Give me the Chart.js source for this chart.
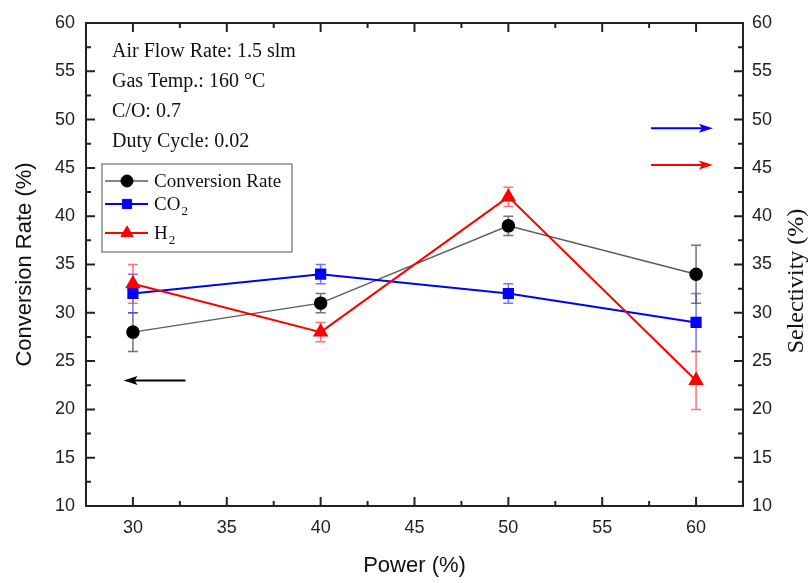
<!DOCTYPE html>
<html>
<head>
<meta charset="utf-8">
<style>
  html, body { margin: 0; padding: 0; background: #fff; }
  #wrap { width: 811px; height: 583px; }
</style>
<script src="https://cdn.jsdelivr.net/npm/chart.js@4.4.1/dist/chart.umd.min.js"></script>
</head>
<body>
<div id="wrap"><canvas id="c" width="811" height="583"></canvas></div>
<script>
// Plasma reforming run: conversion and product selectivity vs. discharge power
const power = [30, 40, 50, 60];
const conversionRate = [28, 31, 39, 34];
const conversionErr = [2, 1, 1, 3];
const co2Selectivity = [32, 34, 32, 29];
const co2Err = [2, 1, 1, 3];
const h2Selectivity = [33, 28, 42, 23];
const h2Err = [2, 1, 1, 3];

const xTicks = [30, 35, 40, 45, 50, 55, 60];
const xMinorTicks = [32.5, 37.5, 42.5, 47.5, 52.5, 57.5];
const yTicks = [10, 15, 20, 25, 30, 35, 40, 45, 50, 55, 60];
const yMinorTicks = [12.5, 17.5, 22.5, 27.5, 32.5, 37.5, 42.5, 47.5, 52.5, 57.5];

const conditions = ['Air Flow Rate: 1.5 slm', 'Gas Temp.: 160 \u00B0C', 'C/O: 0.7', 'Duty Cycle: 0.02'];

// Arrows telling which axis each series belongs to: [x start, x end, y, axis, colour]
const axisArrows = [
  [32.8, 29.5, 23.0, 'y', '#000000'],
  [57.6, 60.9, 49.1, 'y2', '#0000ff'],
  [57.6, 60.9, 45.3, 'y2', '#ff0000']
];

const SERIF = '"Liberation Serif", "Times New Roman", serif';
const SANS = '"Liberation Sans", Arial, sans-serif';

const toPoints = (ys) => power.map((x, i) => ({ x: x, y: ys[i] }));

// Vertical error bars with caps, drawn under the markers
const errorBars = {
  id: 'errorBars',
  beforeDatasetsDraw(chart) {
    const ctx = chart.ctx;
    const xs = chart.scales.x;
    chart.data.datasets.forEach((ds) => {
      const ys = chart.scales[ds.yAxisID];
      ctx.save();
      ctx.strokeStyle = ds.errorColor;
      ctx.lineWidth = 1.5;
      ds.data.forEach((p, i) => {
        const e = ds.errors[i];
        const px = xs.getPixelForValue(p.x);
        const top = ys.getPixelForValue(p.y + e);
        const bot = ys.getPixelForValue(p.y - e);
        ctx.beginPath();
        ctx.moveTo(px, top); ctx.lineTo(px, bot);
        ctx.moveTo(px - 5, top); ctx.lineTo(px + 5, top);
        ctx.moveTo(px - 5, bot); ctx.lineTo(px + 5, bot);
        ctx.stroke();
      });
      ctx.restore();
    });
  }
};

// Boxed frame with inward major/minor ticks on all four sides
const frame = {
  id: 'frame',
  afterDraw(chart) {
    const ctx = chart.ctx;
    const a = chart.chartArea;
    const xs = chart.scales.x, ys = chart.scales.y;
    ctx.save();
    ctx.strokeStyle = '#222';
    ctx.lineWidth = 2;
    ctx.strokeRect(a.left, a.top, a.right - a.left, a.bottom - a.top);
    ctx.beginPath();
    const tickX = (v, len) => {
      const px = xs.getPixelForValue(v);
      ctx.moveTo(px, a.bottom); ctx.lineTo(px, a.bottom - len);
      ctx.moveTo(px, a.top); ctx.lineTo(px, a.top + len);
    };
    const tickY = (v, len) => {
      const py = ys.getPixelForValue(v);
      ctx.moveTo(a.left, py); ctx.lineTo(a.left + len, py);
      ctx.moveTo(a.right, py); ctx.lineTo(a.right - len, py);
    };
    xTicks.forEach(v => tickX(v, 9));
    xMinorTicks.forEach(v => tickX(v, 5));
    yTicks.forEach(v => tickY(v, 9));
    yMinorTicks.forEach(v => tickY(v, 5));
    ctx.stroke();
    ctx.restore();
  }
};

// Run conditions, legend box, axis arrows and the right-hand axis title
const decorations = {
  id: 'decorations',
  afterDatasetsDraw(chart) {
    const ctx = chart.ctx;
    const a = chart.chartArea;
    const xs = chart.scales.x;
    ctx.save();

    // operating conditions
    ctx.fillStyle = '#111';
    ctx.font = '20px ' + SERIF;
    ctx.textAlign = 'left';
    ctx.textBaseline = 'alphabetic';
    conditions.forEach((t, i) => ctx.fillText(t, a.left + 26, a.top + 34 + 30 * i));

    // axis arrows
    axisArrows.forEach(([x0, x1, yv, axis, col]) => {
      const ysc = chart.scales[axis];
      const p0 = xs.getPixelForValue(x0), p1 = xs.getPixelForValue(x1);
      const py = ysc.getPixelForValue(yv);
      const dir = Math.sign(p1 - p0);
      ctx.strokeStyle = col;
      ctx.fillStyle = col;
      ctx.lineWidth = 2;
      ctx.beginPath();
      ctx.moveTo(p0, py); ctx.lineTo(p1 - dir * 8, py);
      ctx.stroke();
      ctx.beginPath();
      ctx.moveTo(p1, py);
      ctx.lineTo(p1 - dir * 14, py - 4.5);
      ctx.lineTo(p1 - dir * 11, py);
      ctx.lineTo(p1 - dir * 14, py + 4.5);
      ctx.closePath();
      ctx.fill();
    });

    // legend box
    const bx = a.left + 16, by = a.top + 141, bw = 190, bh = 88;
    ctx.fillStyle = '#fff';
    ctx.fillRect(bx, by, bw, bh);
    ctx.strokeStyle = '#8a8a8a';
    ctx.lineWidth = 1.5;
    ctx.strokeRect(bx, by, bw, bh);
    const rows = [17, 40, 69];
    chart.data.datasets.forEach((ds, i) => {
      const cy = by + rows[i];
      ctx.strokeStyle = ds.borderColor;
      ctx.lineWidth = ds.borderWidth;
      ctx.beginPath();
      ctx.moveTo(bx + 3, cy); ctx.lineTo(bx + 46, cy);
      ctx.stroke();
      ctx.fillStyle = ds.pointBackgroundColor;
      ctx.strokeStyle = ds.pointBorderColor;
      ctx.lineWidth = 1;
      Chart.helpers.drawPoint(ctx, { pointStyle: ds.pointStyle, radius: ds.pointRadius, rotation: 0, borderWidth: 1 }, bx + 25, cy);
      // label with subscript digits set lower and smaller
      const m = ds.label.match(/^([^\u2080-\u2089]*)([\u2080-\u2089]*)$/);
      const base = m ? m[1] : ds.label;
      const sub = m ? m[2].split('').map(c => String.fromCharCode(c.charCodeAt(0) - 0x2080 + 48)).join('') : '';
      ctx.fillStyle = '#111';
      ctx.font = '19px ' + SERIF;
      ctx.textBaseline = 'alphabetic';
      const tx = bx + 52, ty = cy + 6;
      ctx.fillText(base, tx, ty);
      if (sub) {
        const w = ctx.measureText(base).width;
        ctx.font = '13px ' + SERIF;
        ctx.fillText(sub, tx + w + 1, ty + 5);
      }
    });

    // right axis title
    ctx.translate(797, 281);
    ctx.rotate(-Math.PI / 2);
    ctx.fillStyle = '#111';
    ctx.font = '24px ' + SERIF;
    ctx.textAlign = 'center';
    ctx.textBaseline = 'middle';
    ctx.fillText('Selectivity (%)', 0, 0);
    ctx.restore();
  }
};

const tickFont = { family: SANS, size: 18 };

new Chart(document.getElementById('c').getContext('2d'), {
  type: 'line',
  data: {
    datasets: [
      {
        label: 'Conversion Rate', data: toPoints(conversionRate), errors: conversionErr, yAxisID: 'y',
        borderColor: '#5c5c5c', borderWidth: 1.5, errorColor: 'rgba(90,90,90,0.85)',
        pointStyle: 'circle', pointRadius: 6, pointBackgroundColor: '#000', pointBorderColor: '#000', order: 3
      },
      {
        label: 'CO\u2082', data: toPoints(co2Selectivity), errors: co2Err, yAxisID: 'y2',
        borderColor: '#0000ff', borderWidth: 2, errorColor: 'rgba(70,70,255,0.75)',
        pointStyle: 'rect', pointRadius: 6.5, pointBackgroundColor: '#0000ff', pointBorderColor: '#0000ff', order: 2
      },
      {
        label: 'H\u2082', data: toPoints(h2Selectivity), errors: h2Err, yAxisID: 'y2',
        borderColor: '#ff0000', borderWidth: 2, errorColor: 'rgba(255,70,70,0.75)',
        pointStyle: 'triangle', pointRadius: 7, pointBackgroundColor: '#ff0000', pointBorderColor: '#ff0000', order: 1
      }
    ]
  },
  options: {
    responsive: false,
    animation: false,
    events: [],
    layout: { padding: { top: 23, left: 0, right: 0, bottom: 0 } },
    elements: { line: { tension: 0 }, point: { borderWidth: 1 } },
    plugins: { legend: { display: false }, tooltip: { enabled: false } },
    scales: {
      x: {
        type: 'linear', min: 27.5, max: 62.5,
        afterBuildTicks: s => { s.ticks = xTicks.map(v => ({ value: v })); },
        afterFit: s => { s.height = 77; },
        grid: { display: false, drawTicks: false }, border: { display: false },
        ticks: { font: tickFont, color: '#222', padding: 11 },
        title: { display: true, text: 'Power (%)', font: { family: SANS, size: 22 }, color: '#111', padding: { top: 0, bottom: 4 } }
      },
      y: {
        type: 'linear', position: 'left', min: 10, max: 60,
        afterBuildTicks: s => { s.ticks = yTicks.map(v => ({ value: v })); },
        afterFit: s => { s.width = 86; },
        grid: { display: false, drawTicks: false }, border: { display: false },
        ticks: { font: tickFont, color: '#222', padding: 11 },
        title: { display: true, text: 'Conversion Rate (%)', font: { family: SANS, size: 22 }, color: '#111', padding: { top: 12, bottom: 0 } }
      },
      y2: {
        type: 'linear', position: 'right', min: 10, max: 60,
        afterBuildTicks: s => { s.ticks = yTicks.map(v => ({ value: v })); },
        afterFit: s => { s.width = 68; },
        grid: { display: false, drawTicks: false }, border: { display: false },
        ticks: { font: tickFont, color: '#222', padding: 9 }
      }
    }
  },
  plugins: [errorBars, decorations, frame]
});
</script>
</body>
</html>
